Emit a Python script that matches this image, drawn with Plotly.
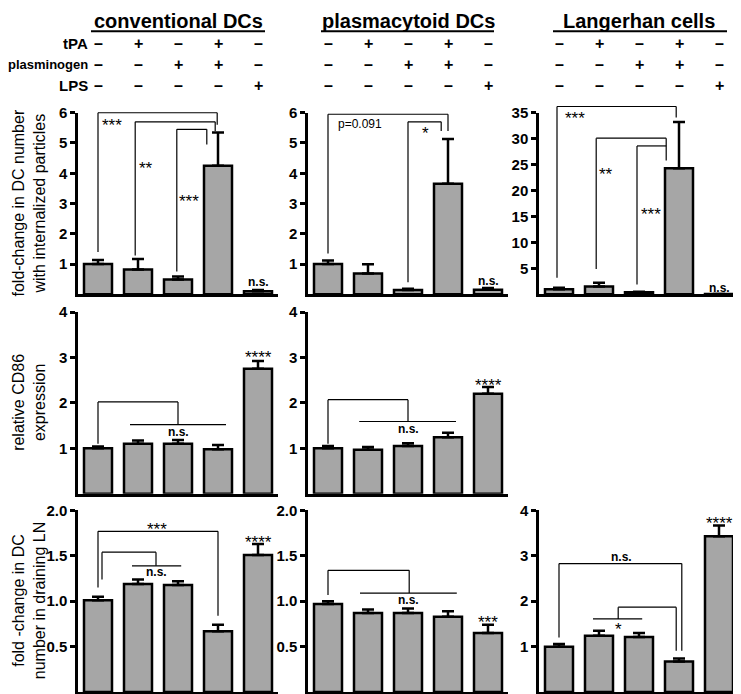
import plotly.graph_objects as go

# The page body has an 8px margin; figure is sized/positioned to compensate.
OFF = 8
W, H = 741 - OFF, 694 - OFF
FONT = "Arial, Liberation Sans, sans-serif"

# ---------------- data ----------------
conditions = ["control", "tPA", "plasminogen", "tPA+plasminogen", "LPS"]
tpa_signs = ["–", "+", "–", "+", "–"]
plg_signs = ["–", "–", "+", "+", "–"]
lps_signs = ["–", "–", "–", "–", "+"]
row_labels = ["tPA", "plasminogen", "LPS"]
row_label_sizes = [15, 13, 15]
col_titles = ["conventional DCs", "plasmacytoid DCs", "Langerhan cells"]

cdc_uptake = [1.00, 0.82, 0.49, 4.25, 0.10]
cdc_uptake_err = [0.13, 0.35, 0.10, 1.10, 0.04]
pdc_uptake = [1.00, 0.69, 0.14, 3.65, 0.15]
pdc_uptake_err = [0.12, 0.30, 0.04, 1.48, 0.06]
lc_uptake = [1.0, 1.5, 0.40, 24.3, 0.05]
lc_uptake_err = [0.25, 0.75, 0.10, 8.9, 0.0]

cdc_cd86 = [1.00, 1.10, 1.10, 0.98, 2.75]
cdc_cd86_err = [0.04, 0.07, 0.08, 0.09, 0.17]
pdc_cd86 = [1.00, 0.97, 1.05, 1.24, 2.20]
pdc_cd86_err = [0.05, 0.06, 0.06, 0.10, 0.15]

cdc_ln = [1.01, 1.19, 1.18, 0.67, 1.51]
cdc_ln_err = [0.04, 0.05, 0.04, 0.07, 0.12]
pdc_ln = [0.97, 0.87, 0.87, 0.83, 0.65]
pdc_ln_err = [0.03, 0.04, 0.05, 0.06, 0.09]
lc_ln = [1.00, 1.24, 1.21, 0.67, 3.43]
lc_ln_err = [0.06, 0.11, 0.09, 0.07, 0.24]

ytitles = ["fold-change in DC number<br>with internalized particles",
           "relative CD86<br>expression",
           "fold -change in DC<br>number in draining LN"]

# significance brackets (polylines in category index / data units)
brackets = {
    1: [[(0, 1.4), (0, 6.0), (2.98, 6.0), (2.98, 5.6)],
        [(0.93, 1.28), (0.93, 5.7), (2.93, 5.7), (2.93, 5.4)],
        [(1.97, 0.75), (1.97, 5.45), (2.72, 5.45), (2.72, 4.95)]],
    2: [[(0, 1.35), (0, 5.95), (3.0, 5.95), (3.0, 5.4)],
        [(2.0, 0.4), (2.0, 5.7), (2.83, 5.7), (2.83, 5.4)]],
    3: [[(-0.05, 3.2), (-0.05, 36.2), (2.93, 36.2), (2.93, 34.1)],
        [(0.93, 4.9), (0.93, 30.1), (2.68, 30.1), (2.68, 25.8)],
        [(1.95, 1.9), (1.95, 28.6), (2.68, 28.6)]],
    4: [[(0, 1.1), (0, 2.02), (2.0, 2.02), (2.0, 1.52)],
        [(0.8, 1.52), (3.2, 1.52)]],
    5: [[(0, 1.1), (0, 2.07), (2.0, 2.07), (2.0, 1.59)],
        [(0.78, 1.59), (3.2, 1.59)]],
    6: [[(0, 1.15), (0, 1.77), (3.0, 1.77), (3.0, 0.84)],
        [(0.1, 1.24), (0.1, 1.54), (1.45, 1.54), (1.45, 1.39)],
        [(0.85, 1.39), (2.08, 1.39)]],
    7: [[(0, 1.07), (0, 1.34), (2.03, 1.34), (2.03, 1.09)],
        [(0.8, 1.09), (3.22, 1.09)]],
    8: [[(0, 1.2), (0, 2.83), (3.07, 2.83), (3.07, 0.91)],
        [(1.48, 1.61), (1.48, 1.87), (2.93, 1.87), (2.93, 0.91)],
        [(0.85, 1.61), (2.08, 1.61)]],
}

# significance labels: (panel, x, y, text, anchor)
sig_labels = [
    (1, 0.05, 5.72, "***", "left"), (1, 1.2, 4.3, "**", "center"),
    (1, 2.28, 3.2, "***", "center"), (1, 4, 0.42, "n.s.", "center"),
    (2, 0.2, 5.62, "p=0.091", "left"), (2, 2.43, 5.45, "*", "center"),
    (2, 4, 0.43, "n.s.", "center"),
    (3, 0.1, 34.6, "***", "left"), (3, 1.17, 23.9, "**", "center"),
    (3, 2.3, 16.2, "***", "center"), (3, 4, 1.3, "n.s.", "center"),
    (4, 2.0, 1.36, "n.s.", "center"), (4, 4, 3.08, "****", "center"),
    (5, 2.0, 1.42, "n.s.", "center"), (5, 4, 2.48, "****", "center"),
    (6, 1.47, 1.83, "***", "center"), (6, 1.47, 1.32, "n.s.", "center"),
    (6, 4, 1.69, "****", "center"),
    (7, 2.0, 1.01, "n.s.", "center"), (7, 4, 0.81, "***", "center"),
    (8, 1.55, 2.98, "n.s.", "center"), (8, 1.48, 1.47, "*", "center"),
    (8, 4, 3.79, "****", "center"),
]

# ---------------- layout geometry (reference pixels) ----------------
cols_px = [(78, 278), (308, 508), (539, 739)]
rows_px = [(105, 289), (307, 491), (508, 692)]

def fx(px):
    return (px - OFF) / W

def fy(py):
    return 1 - (py - OFF) / H

def xd(c):
    return [fx(cols_px[c][0]), fx(cols_px[c][1])]

def yd(r):
    return [fy(rows_px[r][1]), fy(rows_px[r][0])]

# panel id -> (row, col, values, errors, ymax, tickvals, ticktext)
panels = {
    1: (0, 0, cdc_uptake, cdc_uptake_err, 6, [1, 2, 3, 4, 5, 6], None),
    2: (0, 1, pdc_uptake, pdc_uptake_err, 6, [1, 2, 3, 4, 5, 6], None),
    3: (0, 2, lc_uptake, lc_uptake_err, 35, [5, 10, 15, 20, 25, 30, 35], None),
    4: (1, 0, cdc_cd86, cdc_cd86_err, 4, [1, 2, 3, 4], None),
    5: (1, 1, pdc_cd86, pdc_cd86_err, 4, [1, 2, 3, 4], None),
    6: (2, 0, cdc_ln, cdc_ln_err, 2, [0.5, 1.0, 1.5, 2.0], ["0.5", "1.0", "1.5", "2.0"]),
    7: (2, 1, pdc_ln, pdc_ln_err, 2, [0.5, 1.0, 1.5, 2.0], ["0.5", "1.0", "1.5", "2.0"]),
    8: (2, 2, lc_ln, lc_ln_err, 4, [1, 2, 3, 4], None),
}

fig = go.Figure()
layout = dict(
    width=W, height=H, margin=dict(l=0, r=0, t=0, b=0),
    paper_bgcolor="white", plot_bgcolor="white", showlegend=False,
    font=dict(family=FONT, color="black"),
)
shapes, annotations = [], []

def axname(i, a):
    return a if i == 1 else f"{a}{i}"

for i, (r, c, vals, errs, ymax, tv, tt) in panels.items():
    xn, yn = axname(i, "x"), axname(i, "y")
    fig.add_trace(go.Bar(
        x=conditions, y=vals, width=0.7, xaxis=xn, yaxis=yn,
        marker=dict(color="#a6a6a6", line=dict(color="black", width=2.5)),
        error_y=dict(type="data", symmetric=False, array=errs,
                     arrayminus=[0] * len(errs), color="black",
                     thickness=2.5, width=6),
    ))
    layout["xaxis" if i == 1 else f"xaxis{i}"] = dict(
        domain=xd(c), anchor=yn, type="category", range=[-0.5, 4.5],
        showline=True, linewidth=2.5, linecolor="black",
        showticklabels=False, ticks="", showgrid=False, zeroline=False,
        fixedrange=True,
    )
    layout["yaxis" if i == 1 else f"yaxis{i}"] = dict(
        domain=yd(r), anchor=xn, range=[0, ymax],
        showline=True, linewidth=2.5, linecolor="black",
        ticks="outside", ticklen=5, tickwidth=2.5, tickcolor="black",
        tickvals=tv, ticktext=tt,
        tickfont=dict(family=FONT, size=15, color="black", weight="bold"),
        showgrid=False, zeroline=False, fixedrange=True,
    )
    for poly in brackets.get(i, []):
        for (xa, ya), (xb, yb) in zip(poly[:-1], poly[1:]):
            shapes.append(dict(type="line", xref=xn, yref=f"{yn} domain",
                               x0=xa, x1=xb, y0=ya / ymax, y1=yb / ymax,
                               line=dict(color="black", width=1.2)))

for (p, x, y, txt, anc) in sig_labels:
    xn, yn = axname(p, "x"), axname(p, "y")
    is_star = txt.startswith("*")
    if is_star:
        f = dict(family=FONT, size=17, color="black")
    elif txt == "n.s.":
        f = dict(family=FONT, size=12, color="black", weight="bold")
    else:
        f = dict(family=FONT, size=12, color="black")
    annotations.append(dict(x=x, y=y, xref=xn, yref=yn, text=txt,
                            showarrow=False, xanchor=anc, yanchor="middle",
                            yshift=-4 if is_star else 0, font=f))

# column titles + underlines
title_ul = [(91, 265), (321, 494), (553, 727)]
for c, t in enumerate(col_titles):
    xn = axname(c + 1, "x")
    annotations.append(dict(x=2, y=fy(12), xref=xn, yref="paper", text=t,
                            showarrow=False, xanchor="center", yanchor="middle",
                            font=dict(family=FONT, size=20, color="black", weight="bold")))
    shapes.append(dict(type="line", xref="paper", yref="paper",
                       x0=fx(title_ul[c][0]), x1=fx(title_ul[c][1]),
                       y0=fy(22.5), y1=fy(22.5),
                       line=dict(color="black", width=2)))

# treatment rows
sign_rows = [tpa_signs, plg_signs, lps_signs]
row_y = [35, 56, 77]
for k, (lab, signs) in enumerate(zip(row_labels, sign_rows)):
    annotations.append(dict(x=fx(90), y=fy(row_y[k]), xref="paper", yref="paper",
                            text=lab, showarrow=False, xanchor="right", yanchor="middle",
                            font=dict(family=FONT, size=row_label_sizes[k],
                                      color="black", weight="bold")))
    for c in range(3):
        xn = axname(c + 1, "x")
        for j, s in enumerate(signs):
            annotations.append(dict(x=j, y=fy(row_y[k]), xref=xn, yref="paper",
                                    text=s, showarrow=False, xanchor="center",
                                    yanchor="middle",
                                    font=dict(family=FONT, size=16, color="black",
                                              weight="bold")))

# y-axis titles
for r, t in enumerate(ytitles):
    cy = (rows_px[r][0] + rows_px[r][1]) / 2
    annotations.append(dict(x=fx(29), y=fy(cy), xref="paper", yref="paper",
                            text=t, showarrow=False, textangle=-90,
                            xanchor="center", yanchor="middle",
                            font=dict(family=FONT, size=16, color="black")))

layout["shapes"] = shapes
layout["annotations"] = annotations
fig.update_layout(**layout)
fig.write_html("out.html")
